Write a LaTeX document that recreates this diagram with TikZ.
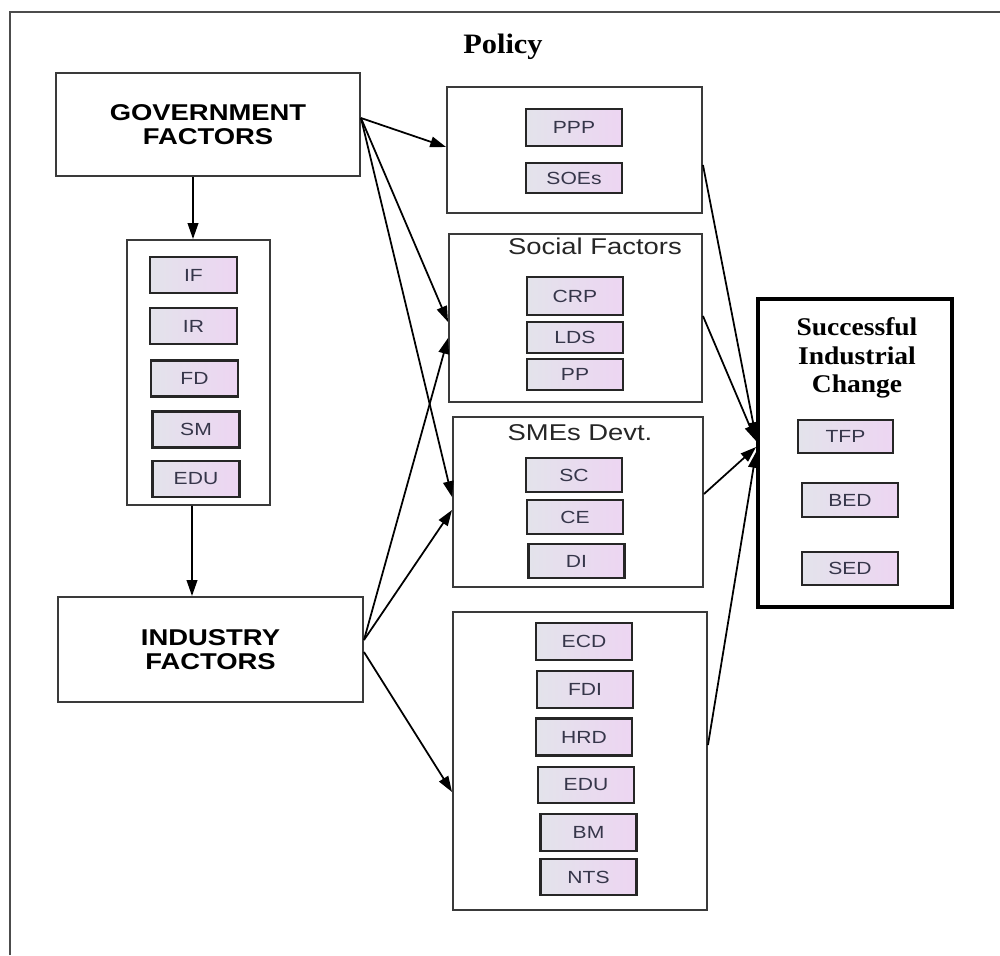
\documentclass[tikz,border=0pt]{standalone}
\usepackage{fontspec}
\setmainfont{Liberation Serif}
\newfontfamily\labfont[FakeStretch=1.2]{Liberation Sans}
\newfontfamily\headfont[FakeStretch=1.08]{Liberation Serif}
\usetikzlibrary{arrows.meta,positioning}
\definecolor{tagleft}{HTML}{E3E3EB}
\definecolor{tagright}{HTML}{EDD5F2}
\definecolor{tagtext}{HTML}{36364A}
\definecolor{boxline}{HTML}{3A3A3A}

\begin{document}
\begin{tikzpicture}[>={Triangle[length=9pt,width=6pt]}, line width=1pt,
  factor/.style={rectangle,draw=boxline,line width=1.1pt,minimum width=6.08cm,minimum height=2.06cm,align=center,font=\labfont\fontsize{13}{13.8}\selectfont\bfseries},
  panel/.style={rectangle,draw=boxline,line width=1.1pt,inner sep=0pt},
  itembox/.style={rectangle,draw=black!85,line width=1.3pt,left color=tagleft,right color=tagright,text=tagtext,minimum width=1.92cm,minimum height=0.68cm,inner sep=0pt,font=\labfont\fontsize{10}{11}\selectfont},
  heading/.style={text=black!85,inner sep=0pt,font=\labfont\fontsize{13}{14}\selectfont}]
  \useasboundingbox (0,0) rectangle (20,-19.1);
  \draw[line width=1.3pt,black!70] (0.2,-19.1) -- (0.2,-0.24) -- (20,-0.24);
  \node[anchor=base,font=\headfont\fontsize{16}{18}\selectfont\bfseries] at (10.06,-1.06) (title) {Policy};

  % left column
  \node[factor] at (4.16,-2.49) (gov) {GOVERNMENT\\FACTORS};
  \node[panel,minimum width=2.86cm,minimum height=5.3cm] at (3.97,-7.45) (lst) {};
  \node[itembox,minimum width=1.74cm,minimum height=0.72cm] at (3.87,-5.5) (if) {IF};
  \node[itembox,minimum width=1.74cm,minimum height=0.72cm] at (3.87,-6.52) (ir) {IR};
  \node[itembox,minimum width=1.74cm,minimum height=0.72cm] at (3.89,-7.57) (fd) {FD};
  \node[itembox,minimum width=1.74cm,minimum height=0.72cm] at (3.92,-8.59) (sm) {SM};
  \node[itembox,minimum width=1.74cm,minimum height=0.72cm] at (3.92,-9.58) (edu) {EDU};
  \node[factor,minimum width=6.1cm,minimum height=2.1cm] at (4.21,-12.99) (ind) {INDUSTRY\\FACTORS};

  % middle column
  \node[panel,minimum width=5.1cm,minimum height=2.52cm] at (11.49,-3.0) (pol) {};
  \node[itembox,minimum height=0.74cm] at (11.48,-2.55) (ppp) {PPP};
  \node[itembox,minimum height=0.6cm] at (11.48,-3.56) (soe) {SOEs};

  \node[panel,minimum width=5.06cm,minimum height=3.36cm] at (11.51,-6.36) (soc) {};
  \node[heading] at (11.9,-4.92) (soct) {Social Factors};
  \node[itembox,minimum height=0.76cm] at (11.5,-5.92) (crp) {CRP};
  \node[itembox,minimum height=0.62cm] at (11.5,-6.75) (lds) {LDS};
  \node[itembox,minimum height=0.62cm] at (11.5,-7.49) (pp) {PP};

  \node[panel,minimum width=5.0cm,minimum height=3.4cm] at (11.56,-10.04) (sme) {};
  \node[heading] at (11.6,-8.66) (smet) {SMEs Devt.};
  \node[itembox] at (11.48,-9.5) (sc) {SC};
  \node[itembox] at (11.5,-10.34) (ce) {CE};
  \node[itembox] at (11.53,-11.22) (di) {DI};

  \node[panel,minimum width=5.08cm,minimum height=5.96cm] at (11.6,-15.22) (inv) {};
  \node[itembox,minimum height=0.74cm] at (11.68,-12.83) (ecd) {ECD};
  \node[itembox,minimum height=0.74cm] at (11.7,-13.79) (fdi) {FDI};
  \node[itembox,minimum height=0.74cm] at (11.68,-14.74) (hrd) {HRD};
  \node[itembox,minimum height=0.72cm] at (11.72,-15.7) (edub) {EDU};
  \node[itembox,minimum height=0.74cm] at (11.77,-16.65) (bm) {BM};
  \node[itembox,minimum height=0.72cm] at (11.77,-17.54) (nts) {NTS};

  % right column
  \node[panel,draw=black,line width=2.2pt,minimum width=3.88cm,minimum height=6.16cm] at (17.1,-9.06) (sic) {};
  \node[align=center,inner sep=0pt,font=\headfont\fontsize{14.5}{16.4}\selectfont\bfseries] at (17.14,-7.16) (sict) {Successful\\Industrial\\Change};
  \node[itembox,minimum width=1.9cm,minimum height=0.66cm] at (16.91,-8.73) (tfp) {TFP};
  \node[itembox] at (17.0,-10.0) (bed) {BED};
  \node[itembox,minimum height=0.66cm] at (17.0,-11.37) (sed) {SED};

  % connectors
  \draw[->] ([xshift=-0.3cm]gov.south) -- ([xshift=-0.11cm]lst.north);
  \draw[->] ([xshift=-0.13cm]lst.south) -- ([xshift=-0.37cm]ind.north);
  \draw[->] ([yshift=0.13cm]gov.east) -- ([yshift=0.06cm]pol.west);
  \draw[->] ([yshift=0.13cm]gov.east) -- ([yshift=-0.08cm]soc.west);
  \draw[->] ([yshift=0.13cm]gov.east) -- ([yshift=0.1cm]sme.west);
  \draw[->] ([yshift=0.19cm]ind.east) -- ([yshift=-0.4cm]soc.west);
  \draw[->] ([yshift=0.19cm]ind.east) -- ([yshift=-0.16cm]sme.west);
  \draw[->] ([yshift=-0.05cm]ind.east) -- ([yshift=-0.62cm]inv.west);
  \draw[->] ([yshift=-0.3cm]pol.east) -- ([yshift=0.3cm]sic.west);
  \draw[->] ([yshift=0.04cm]soc.east) -- ([yshift=0.24cm]sic.west);
  \draw[->] ([yshift=0.16cm]sme.east) -- ([yshift=0.12cm]sic.west);
  \draw[->] ([yshift=0.32cm]inv.east) -- ([yshift=0.02cm]sic.west);
\end{tikzpicture}
\end{document}
